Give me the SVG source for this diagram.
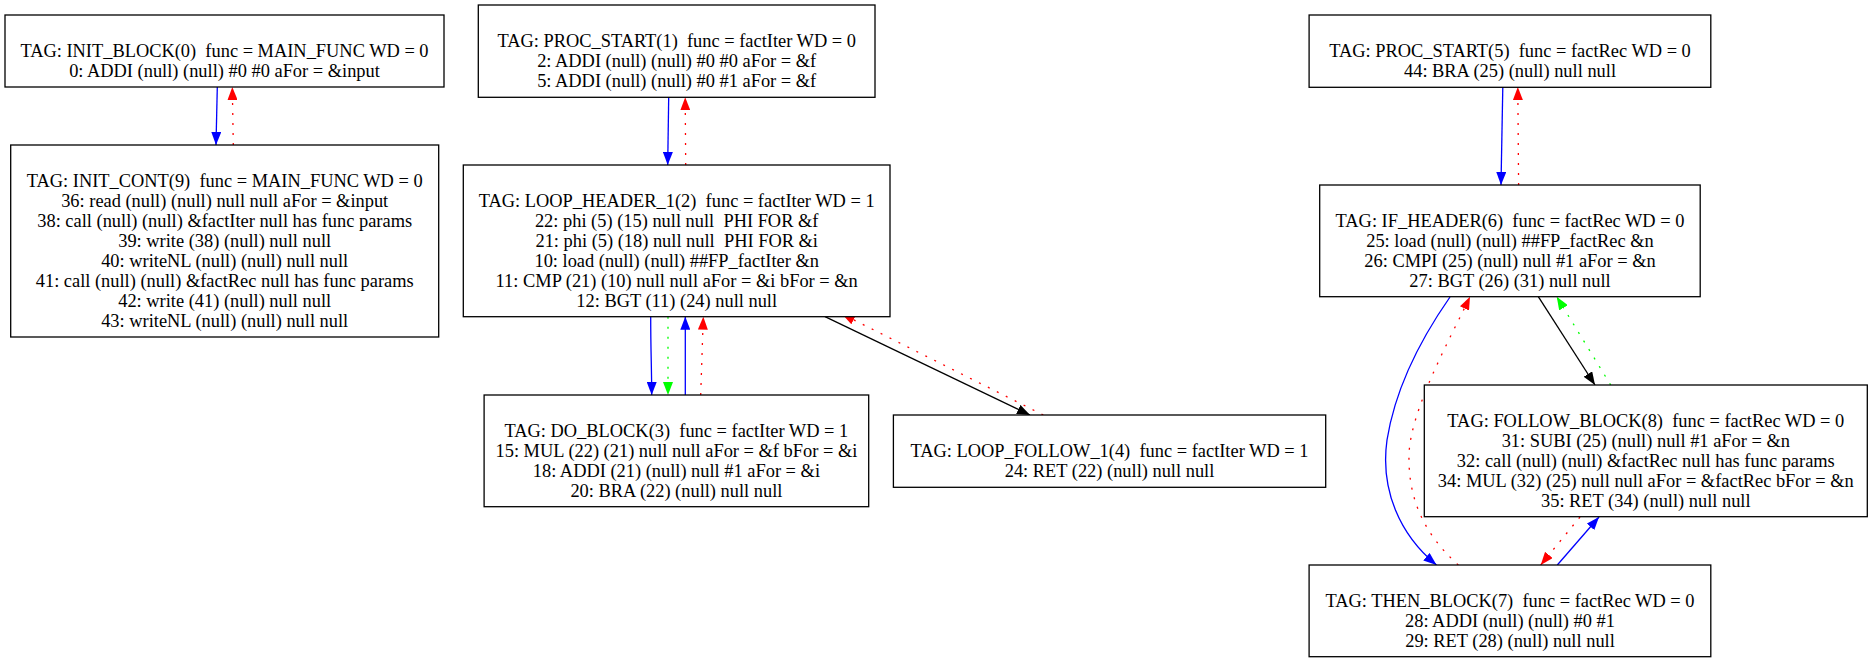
<svg xmlns="http://www.w3.org/2000/svg" width="1873" height="663" viewBox="0 0 1873 663" xml:space="preserve">
<style>
.n rect{fill:#fff;stroke:#000;stroke-width:1.3}
.n text{font-family:"Liberation Serif","Times New Roman",serif;font-size:18.4px;fill:#000;text-anchor:middle;white-space:pre}
.e path{fill:none;stroke-width:1.3}
.b{stroke:#0000ff}
.r{stroke:#ff0000;stroke-dasharray:2,8}
.g{stroke:#00ff00;stroke-dasharray:2,8}
.k{stroke:#000}
</style>
<defs>
<marker id="ab" markerUnits="userSpaceOnUse" markerWidth="13" markerHeight="10" refX="13" refY="5" orient="auto"><path d="M0,0 L13,5 L0,10 z" fill="#0000ff"/></marker>
<marker id="ar" markerUnits="userSpaceOnUse" markerWidth="13" markerHeight="10" refX="13" refY="5" orient="auto"><path d="M0,0 L13,5 L0,10 z" fill="#ff0000"/></marker>
<marker id="ag" markerUnits="userSpaceOnUse" markerWidth="13" markerHeight="10" refX="13" refY="5" orient="auto"><path d="M0,0 L13,5 L0,10 z" fill="#00ff00"/></marker>
<marker id="ak" markerUnits="userSpaceOnUse" markerWidth="13" markerHeight="10" refX="13" refY="5" orient="auto"><path d="M0,0 L13,5 L0,10 z" fill="#000"/></marker>
</defs>
<rect width="1873" height="663" fill="#fff"/>
<g id="edges" class="e">
<path class="b" d="M217.3,87 L216,145" marker-end="url(#ab)"/>
<path class="r" d="M233.3,145 L232.3,87" marker-end="url(#ar)"/>
<path class="b" d="M668.7,97.3 L667.7,165" marker-end="url(#ab)"/>
<path class="r" d="M685.7,165 L685.2,97.3" marker-end="url(#ar)"/>
<path class="b" d="M650.7,316.7 C650.7,350 651.7,370 651.7,395" marker-end="url(#ab)"/>
<path class="g" d="M668,316.7 L668,395" marker-end="url(#ag)"/>
<path class="b" d="M685.3,395 L685.3,316.7" marker-end="url(#ab)"/>
<path class="r" d="M700.7,395 L703.3,316.7" marker-end="url(#ar)"/>
<path class="k" d="M825,316.7 L1030,415" marker-end="url(#ak)"/>
<path class="r" d="M1043.3,415 L842,314" marker-end="url(#ar)"/>
<path class="b" d="M1502.8,87 L1501,185" marker-end="url(#ab)"/>
<path class="r" d="M1518.6,185 L1517.8,87" marker-end="url(#ar)"/>
<path class="b" d="M1450,297 C1420,340 1395,390 1387,440 C1380,490 1400,535 1436.5,565" marker-end="url(#ab)"/>
<path class="r" d="M1458.3,565 C1425,535 1408,500 1409,455 C1410,410 1452,335 1470,296.7" marker-end="url(#ar)"/>
<path class="k" d="M1538.3,296.7 L1595,385" marker-end="url(#ak)"/>
<path class="g" d="M1610.7,385 L1556.7,296.7" marker-end="url(#ag)"/>
<path class="r" d="M1580,517 L1540.7,565" marker-end="url(#ar)"/>
<path class="b" d="M1557.3,565 L1599,517" marker-end="url(#ab)"/>
</g>
<g id="init_block" class="n">
<rect x="5" y="15" width="439" height="72"/>
<text x="224.5" y="57">TAG: INIT_BLOCK(0)  func = MAIN_FUNC WD = 0</text>
<text x="224.5" y="77">0: ADDI (null) (null) #0 #0 aFor = &amp;input</text>
</g>
<g id="init_cont" class="n">
<rect x="10.7" y="145" width="428" height="192"/>
<text x="224.7" y="187">TAG: INIT_CONT(9)  func = MAIN_FUNC WD = 0</text>
<text x="224.7" y="207">36: read (null) (null) null null aFor = &amp;input</text>
<text x="224.7" y="227">38: call (null) (null) &amp;factIter null has func params</text>
<text x="224.7" y="247">39: write (38) (null) null null</text>
<text x="224.7" y="267">40: writeNL (null) (null) null null</text>
<text x="224.7" y="287">41: call (null) (null) &amp;factRec null has func params</text>
<text x="224.7" y="307">42: write (41) (null) null null</text>
<text x="224.7" y="327">43: writeNL (null) (null) null null</text>
</g>
<g id="proc_start_1" class="n">
<rect x="478.3" y="5" width="396.7" height="92.3"/>
<text x="676.7" y="47">TAG: PROC_START(1)  func = factIter WD = 0</text>
<text x="676.7" y="67">2: ADDI (null) (null) #0 #0 aFor = &amp;f</text>
<text x="676.7" y="87">5: ADDI (null) (null) #0 #1 aFor = &amp;f</text>
</g>
<g id="loop_header_1" class="n">
<rect x="463.3" y="165" width="426.7" height="151.7"/>
<text x="676.7" y="207">TAG: LOOP_HEADER_1(2)  func = factIter WD = 1</text>
<text x="676.7" y="227">22: phi (5) (15) null null  PHI FOR &amp;f</text>
<text x="676.7" y="247">21: phi (5) (18) null null  PHI FOR &amp;i</text>
<text x="676.7" y="267">10: load (null) (null) ##FP_factIter &amp;n</text>
<text x="676.7" y="287">11: CMP (21) (10) null null aFor = &amp;i bFor = &amp;n</text>
<text x="676.7" y="307">12: BGT (11) (24) null null</text>
</g>
<g id="do_block" class="n">
<rect x="484.1" y="395" width="384.6" height="111.7"/>
<text x="676.4" y="437">TAG: DO_BLOCK(3)  func = factIter WD = 1</text>
<text x="676.4" y="457">15: MUL (22) (21) null null aFor = &amp;f bFor = &amp;i</text>
<text x="676.4" y="477">18: ADDI (21) (null) null #1 aFor = &amp;i</text>
<text x="676.4" y="497">20: BRA (22) (null) null null</text>
</g>
<g id="loop_follow_1" class="n">
<rect x="893.4" y="415" width="432.3" height="72.3"/>
<text x="1109.5" y="457">TAG: LOOP_FOLLOW_1(4)  func = factIter WD = 1</text>
<text x="1109.5" y="477">24: RET (22) (null) null null</text>
</g>
<g id="proc_start_5" class="n">
<rect x="1309.1" y="15" width="401.7" height="72.3"/>
<text x="1510" y="57">TAG: PROC_START(5)  func = factRec WD = 0</text>
<text x="1510" y="77">44: BRA (25) (null) null null</text>
</g>
<g id="if_header" class="n">
<rect x="1319.7" y="185" width="380.5" height="111.7"/>
<text x="1510" y="227">TAG: IF_HEADER(6)  func = factRec WD = 0</text>
<text x="1510" y="247">25: load (null) (null) ##FP_factRec &amp;n</text>
<text x="1510" y="267">26: CMPI (25) (null) null #1 aFor = &amp;n</text>
<text x="1510" y="287">27: BGT (26) (31) null null</text>
</g>
<g id="follow_block" class="n">
<rect x="1424.3" y="385" width="443" height="131.7"/>
<text x="1645.8" y="427">TAG: FOLLOW_BLOCK(8)  func = factRec WD = 0</text>
<text x="1645.8" y="447">31: SUBI (25) (null) null #1 aFor = &amp;n</text>
<text x="1645.8" y="467">32: call (null) (null) &amp;factRec null has func params</text>
<text x="1645.8" y="487">34: MUL (32) (25) null null aFor = &amp;factRec bFor = &amp;n</text>
<text x="1645.8" y="507">35: RET (34) (null) null null</text>
</g>
<g id="then_block" class="n">
<rect x="1309.1" y="565" width="401.7" height="91.7"/>
<text x="1510" y="607">TAG: THEN_BLOCK(7)  func = factRec WD = 0</text>
<text x="1510" y="627">28: ADDI (null) (null) #0 #1</text>
<text x="1510" y="647">29: RET (28) (null) null null</text>
</g>
</svg>
